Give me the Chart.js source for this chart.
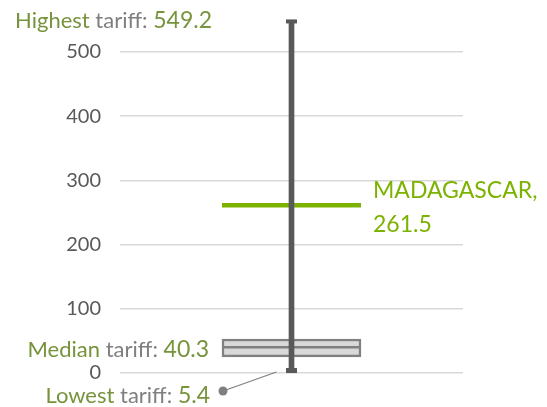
<!DOCTYPE html>
<html><head><meta charset="utf-8">
<script src="https://cdn.jsdelivr.net/npm/chart.js@4"></script>
<style>html,body{margin:0;padding:0;background:#fff}#wrap{width:547px;height:407px;position:relative}</style>
</head><body><div id="wrap"><canvas id="c" width="547" height="407"></canvas></div>
<script>
const categories = ['Tariffs'];
const lowestTariff = [5.4];
const highestTariff = [549.2];
const medianTariff = [40.3];
const quartileLow = [25];
const quartileHigh = [53];
const highlightName = ['MADAGASCAR'];
const highlightValue = [261.5];
const yTicks = [0, 100, 200, 300, 400, 500];

const OLIVE = '#77933c';
const GREY = '#7f7f7f';
const BRIGHT = '#7cb200';
const FONT = 'Lato';

function runs(ctx, parts, xRight, baseline) {
  let total = 0;
  parts.forEach(p => { ctx.font = p.size + 'px ' + FONT; p.w = ctx.measureText(p.t).width; total += p.w; });
  let x = xRight - total;
  ctx.textAlign = 'left'; ctx.textBaseline = 'alphabetic';
  parts.forEach(p => { ctx.font = p.size + 'px ' + FONT; ctx.fillStyle = p.c; ctx.fillText(p.t, x, baseline); x += p.w; });
}

const overlay = {
  id: 'overlay',
  afterDatasetDraw(chart, args) {
    if (args.index !== 1) return;
    const ctx = chart.ctx, y = chart.scales.y;
    const bar = chart.getDatasetMeta(1).data[0];
    const left = bar.x - bar.width / 2, right = bar.x + bar.width / 2;
    ctx.save();
    const my = y.getPixelForValue(medianTariff[0]);
    ctx.strokeStyle = '#808080'; ctx.lineWidth = 2.5;
    ctx.beginPath(); ctx.moveTo(left + 1, my); ctx.lineTo(right - 1, my); ctx.stroke();
    const hy = y.getPixelForValue(highlightValue[0]);
    ctx.strokeStyle = BRIGHT; ctx.lineWidth = 4.5;
    ctx.beginPath(); ctx.moveTo(left, hy); ctx.lineTo(right, hy); ctx.stroke();
    ctx.restore();
  },
  afterDatasetsDraw(chart) {
    const ctx = chart.ctx, y = chart.scales.y;
    const w = chart.getDatasetMeta(0).data[0];
    const box = chart.getDatasetMeta(1).data[0];
    const boxLeft = box.x - box.width / 2, boxRight = box.x + box.width / 2;
    const hiY = y.getPixelForValue(highestTariff[0]);
    const loY = y.getPixelForValue(lowestTariff[0]);
    const medY = y.getPixelForValue(medianTariff[0]);
    const hlY = y.getPixelForValue(highlightValue[0]);
    ctx.save();
    ctx.fillStyle = '#595959';
    ctx.fillRect(w.x - 5.5, hiY - 1, 11, 4);
    ctx.fillRect(w.x - 5.5, loY - 1.5, 11, 5);
    ctx.strokeStyle = '#7f7f7f'; ctx.lineWidth = 1.2;
    ctx.beginPath(); ctx.moveTo(boxLeft + 1, loY + 21.5); ctx.lineTo(w.x - 15, loY + 2.5); ctx.stroke();
    ctx.fillStyle = '#7f7f7f';
    ctx.beginPath(); ctx.arc(boxLeft + 1, loY + 21.5, 4.5, 0, Math.PI * 2); ctx.fill();
    const xr = boxLeft - 11;
    runs(ctx, [{t: 'Highest', c: OLIVE, size: 22}, {t: ' tariff: ', c: GREY, size: 22}, {t: String(highestTariff[0]), c: OLIVE, size: 23}], xr + 1, hiY + 7.6);
    runs(ctx, [{t: 'Median', c: OLIVE, size: 22}, {t: ' tariff: ', c: GREY, size: 22}, {t: String(medianTariff[0]), c: OLIVE, size: 23}], xr - 2, medY + 10);
    runs(ctx, [{t: 'Lowest', c: OLIVE, size: 22}, {t: ' tariff: ', c: GREY, size: 22}, {t: String(lowestTariff[0]), c: OLIVE, size: 23}], xr - 1, loY + 33.5);
    ctx.font = '23px ' + FONT; ctx.fillStyle = BRIGHT; ctx.textAlign = 'left'; ctx.textBaseline = 'alphabetic';
    ctx.fillText(highlightName[0] + ',', boxRight + 12, hlY - 7);
    ctx.fillText(String(highlightValue[0]), boxRight + 12, hlY + 27);
    ctx.restore();
  }
};

function draw() {
  new Chart(document.getElementById('c'), {
    type: 'bar',
    data: {
      labels: categories,
      datasets: [
        { label: 'Range', data: categories.map((c, i) => [lowestTariff[i], highestTariff[i]]),
          backgroundColor: '#595959', borderWidth: 0, barThickness: 5, grouped: false },
        { label: 'Quartiles', data: categories.map((c, i) => [quartileLow[i], quartileHigh[i]]),
          backgroundColor: '#d9d9d9', borderColor: '#808080', borderWidth: 2.5, borderSkipped: false,
          barThickness: 139, grouped: false }
      ]
    },
    options: {
      responsive: false, animation: false, devicePixelRatio: 1,
      layout: { padding: { left: 0, right: 84, top: 13.5, bottom: 34 } },
      plugins: { legend: { display: false }, tooltip: { enabled: false } },
      scales: {
        x: { display: false },
        y: {
          min: 0, max: 560,
          border: { display: false },
          grid: { color: '#d9d9d9', lineWidth: 1.5, drawTicks: false },
          afterBuildTicks: s => { s.ticks = yTicks.map(v => ({ value: v })); },
          afterFit: s => { s.width = 120; s.paddingTop = 0; s.paddingBottom = 0; },
          ticks: { padding: 19, color: '#595959', font: { family: FONT, size: 20 } }
        }
      }
    },
    plugins: [overlay]
  });
}
document.fonts.load('20px ' + FONT).then(draw, draw);
</script>
</body></html>
